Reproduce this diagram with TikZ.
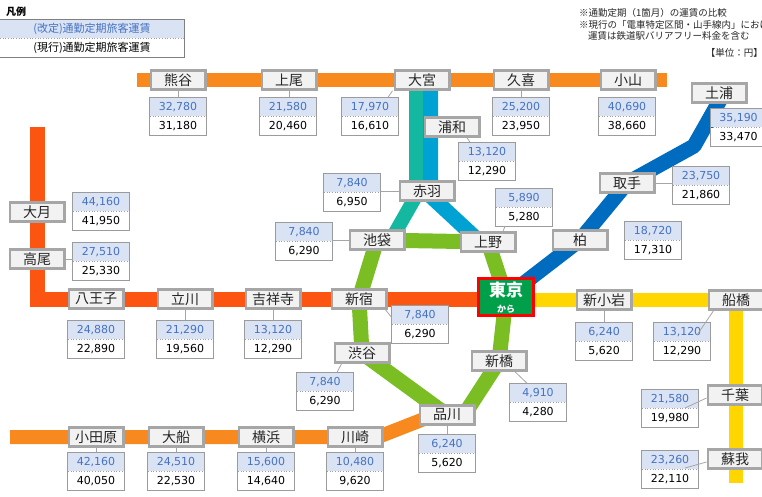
\documentclass[tikz,border=0pt]{standalone}
\usepackage{fontspec}
\setmainfont{DejaVu Sans}
\newfontfamily\jp{Noto Sans CJK JP}
\usetikzlibrary{calc,backgrounds}
\definecolor{stborder}{RGB}{166,166,166}
\definecolor{stfill}{RGB}{242,242,242}
\definecolor{stext}{RGB}{38,38,38}
\definecolor{farefill}{RGB}{218,227,243}
\definecolor{fareblue}{RGB}{68,114,196}
\definecolor{fareborder}{RGB}{155,155,155}
\definecolor{orangeT}{RGB}{247,137,30}
\definecolor{chuo}{RGB}{252,85,18}
\definecolor{saikyo}{RGB}{20,184,160}
\definecolor{keihin}{RGB}{0,162,212}
\definecolor{yamanote}{RGB}{122,190,35}
\definecolor{joban}{RGB}{0,108,192}
\definecolor{sobu}{RGB}{255,214,0}
\definecolor{tokgreen}{RGB}{0,160,75}
\definecolor{tokred}{RGB}{255,0,0}
\tikzset{
  station/.style={draw=stborder, line width=2.5pt, fill=stfill, minimum width=54.5pt,
    minimum height=19pt, inner sep=0pt, text=stext, font=\jp\fontsize{14}{14}\selectfont},
  farenew/.style={fill=farefill, text=fareblue, minimum width=56pt, minimum height=19pt,
    inner sep=0pt, anchor=north, font=\fontsize{11}{11}\selectfont},
  fareold/.style={fill=white, text=black, minimum width=56pt, minimum height=19pt,
    inner sep=0pt, anchor=north, font=\fontsize{11}{11}\selectfont},
  fareframe/.style={draw=fareborder, line width=0.9pt},
  faresep/.style={draw=gray!75, dotted, line width=0.7pt},
  leader/.style={draw=stborder, line width=0.8pt},
  rail/.style={line width=#1},
  rail/.default=15pt,
  notetext/.style={inner sep=0pt, text=stext, font=\jp\fontsize{9.5}{9.5}\selectfont},
  legnew/.style={fill=farefill, text=fareblue, minimum width=184pt, minimum height=19pt,
    inner sep=0pt, anchor=north, font=\jp\fontsize{11}{11}\selectfont},
  legold/.style={fill=white, text=black, minimum width=184pt, minimum height=19pt,
    inner sep=0pt, anchor=north, font=\jp\fontsize{11}{11}\selectfont},
  tokyobox/.style={draw=tokred, fill=tokgreen, line width=3pt, minimum width=55pt,
    minimum height=37pt, inner sep=0pt},
  tokyomain/.style={inner sep=0pt, text=white, font=\jp\bfseries\fontsize{17}{17}\selectfont},
  tokyosub/.style={inner sep=0pt, text=white, font=\jp\bfseries\fontsize{9}{9}\selectfont},
}
\newcommand\mkfare[5]{%
  \node[farenew] (#1-n) at (#2,#3) {#4};
  \node[fareold] (#1-o) at (#1-n.south) {#5};
  \draw[faresep] (#1-n.south west) -- (#1-n.south east);
  \draw[fareframe] (#1-n.north west) rectangle (#1-o.south east);
}
\begin{document}
\begin{tikzpicture}[x=1pt,y=-1pt]
\useasboundingbox (0,0) rectangle (762,497);

% ---------- legend and notes
\node[inner sep=0pt, anchor=west, text=black, font=\jp\bfseries\fontsize{10}{10}\selectfont] (legtitle) at (6,12) {凡例};
\node[legnew] (leg-n) at (92,19) {(改定)通勤定期旅客運賃};
\node[legold] (leg-o) at (leg-n.south) {(現行)通勤定期旅客運賃};
\draw[faresep] (leg-n.south west) -- (leg-n.south east);
\draw[draw=gray, line width=0.9pt] (leg-n.north west) rectangle (leg-o.south east);

\node[notetext, anchor=west] (note1) at (579,13) {※通勤定期（1箇月）の運賃の比較};
\node[notetext, anchor=west] (note2) at (579,25) {※現行の「電車特定区間・山手線内」における};
\node[notetext, anchor=west] (note3) at (588,36) {運賃は鉄道駅バリアフリー料金を含む};
\node[notetext, anchor=east] (unit) at (763,53) {【単位：円】};

% ---------- stations
\node[station] (kumagaya) at (178,80) {熊谷};
\node[station] (ageo) at (289,80) {上尾};
\node[station] (omiya) at (422,80) {大宮};
\node[station] (kuki) at (521,80) {久喜};
\node[station] (oyama) at (628,80) {小山};
\node[station] (urawa) at (452,127) {浦和};
\node[station] (akabane) at (427,191) {赤羽};
\node[station] (ikebukuro) at (377,240) {池袋};
\node[station] (ueno) at (488,242) {上野};
\node[station] (shinjuku) at (359,299) {新宿};
\node[station] (shibuya) at (362,353) {渋谷};
\node[station] (shimbashi) at (499,361) {新橋};
\node[station] (shinagawa) at (447,415) {品川};
\node[station] (otsuki) at (37,212) {大月};
\node[station] (takao) at (37,259) {高尾};
\node[station] (hachioji) at (96,299) {八王子};
\node[station] (tachikawa) at (185,299) {立川};
\node[station] (kichijoji) at (273,299) {吉祥寺};
\node[station] (odawara) at (96,437) {小田原};
\node[station] (ofuna) at (176,437) {大船};
\node[station] (yokohama) at (266,437) {横浜};
\node[station] (kawasaki) at (355,437) {川崎};
\node[station] (kashiwa) at (580,240) {柏};
\node[station] (toride) at (627,183) {取手};
\node[station] (tsuchiura) at (719,93) {土浦};
\node[station] (shinkoiwa) at (604,300) {新小岩};
\node[station] (funabashi) at (736,300) {船橋};
\node[station] (chiba) at (735,395) {千葉};
\node[station] (soga) at (735,459) {蘇我};

\node[tokyobox] (tokyo) at (506,297) {};
\node[tokyomain] (tokyo-t) at (506,290) {東京};
\node[tokyosub] (tokyo-k) at (506,309) {から};

% ---------- rail lines
\coordinate (takW) at (137,80);
\coordinate (takE) at (667,80);
\coordinate (saiN) at (416,82);
\coordinate (saiB) at (416,196);
\coordinate (kenN) at (430.5,82);
\coordinate (kenB) at (430.5,196);
\coordinate (chuoN) at (37,127);
\coordinate (chuoC) at (37,299.5);
\coordinate (sobuC) at (736,300);
\coordinate (sobuS) at (736,483);
\coordinate (tokaW) at (10,437);
\coordinate (tokaK) at (378,437);
\coordinate (jobB) at (694,146);
\begin{scope}[on background layer]
  \fill[white] (0,0) rectangle (762,497);
  \draw[rail=14pt, orangeT] (takW) -- (takE);
  \draw[rail=14pt, saikyo, line join=round] (saiN) -- (saiB) -- ($(ikebukuro.center)+(14,0)$);
  \draw[rail=15pt, keihin, line join=round] (kenN) -- (kenB) -- ($(ueno.center)+(-8,0)$);
  \draw[rail=15pt, chuo, line join=miter] (chuoN) -- (chuoC) -- (tokyo.center |- chuoC);
  \draw[rail=14pt, sobu, line join=miter] (tokyo.center |- sobuC) -- (sobuC) -- (sobuS);
  \draw[rail=14pt, orangeT, line join=round] (tokaW) -- (tokaK) -- ($(shinagawa.center)+(0,-5)$);
  \draw[rail=15pt, joban, line join=round] (tokyo.center) -- (kashiwa.center) -- (toride.center)
    -- (jobB) -- ($(tsuchiura.center)+(5,0)$);
  \draw[rail=15pt, yamanote, line join=round] (ikebukuro.center) -- (ueno.center) -- (tokyo.center)
    -- (shimbashi.center) -- ($(shinagawa.center)+(17,0)$) -- (shinagawa.center)
    -- (shibuya.center) -- (shinjuku.center) -- cycle;
\end{scope}

% ---------- fare boxes
\mkfare{kumagaya}{178}{97}{32,780}{31,180}
\mkfare{ageo}{288}{97}{21,580}{20,460}
\mkfare{omiya}{370}{97}{17,970}{16,610}
\mkfare{kuki}{521}{97}{25,200}{23,950}
\mkfare{oyama}{627}{97}{40,690}{38,660}
\mkfare{urawa}{487}{142}{13,120}{12,290}
\mkfare{akabane}{352}{173}{7,840}{6,950}
\mkfare{ikebukuro}{304}{222}{7,840}{6,290}
\mkfare{ueno}{524}{188}{5,890}{5,280}
\mkfare{shinjuku}{420}{305}{7,840}{6,290}
\mkfare{shibuya}{325}{372}{7,840}{6,290}
\mkfare{shimbashi}{538}{383}{4,910}{4,280}
\mkfare{shinagawa}{447}{434}{6,240}{5,620}
\mkfare{otsuki}{101}{192}{44,160}{41,950}
\mkfare{takao}{101}{242}{27,510}{25,330}
\mkfare{hachioji}{96}{320}{24,880}{22,890}
\mkfare{tachikawa}{185}{320}{21,290}{19,560}
\mkfare{kichijoji}{273}{320}{13,120}{12,290}
\mkfare{odawara}{96}{452}{42,160}{40,050}
\mkfare{ofuna}{176}{452}{24,510}{22,530}
\mkfare{yokohama}{266}{452}{15,600}{14,640}
\mkfare{kawasaki}{355}{452}{10,480}{9,620}
\mkfare{kashiwa}{653}{221}{18,720}{17,310}
\mkfare{toride}{701}{166}{23,750}{21,860}
\mkfare{tsuchiura}{738.5}{108}{35,190}{33,470}
\mkfare{shinkoiwa}{604}{322}{6,240}{5,620}
\mkfare{funabashi}{682}{322}{13,120}{12,290}
\mkfare{chiba}{670}{389}{21,580}{19,980}
\mkfare{soga}{670}{450}{23,260}{22,110}

% ---------- leaders
\coordinate (funabashi-l) at (697,335);
\coordinate (chiba-l) at (685,408);
\coordinate (soga-l) at (685,468);
\draw[leader] (kumagaya.south) -- (kumagaya.south |- kumagaya-n.north);
\draw[leader] (ageo.south) -- (ageo.south |- ageo-n.north);
\draw[leader] ($(omiya.south west)+(-1,0)$) -- ($(omiya-n.north east)+(-10,0)$);
\draw[leader] (kuki.south) -- (kuki.south |- kuki-n.north);
\draw[leader] ($(urawa.south)+(15,0)$) -- ($(urawa-n.north west)+(11,0)$);
\draw[leader] (akabane.west) -- (akabane.west -| akabane-n.east);
\draw[leader] (ikebukuro.west) -- (ikebukuro.west -| ikebukuro-n.east);
\draw[leader] ($(ueno.north)+(15,0)$) -- ($(ueno-o.south west)+(9,0)$);
\draw[leader] ($(shinjuku.south east)+(-2,0)$) -- ($(shinjuku-n.west)+(0,3)$);
\draw[leader] ($(shibuya.south west)+(8,0)$) -- ($(shibuya-n.north east)+(-16,0)$);
\draw[leader] ($(shimbashi.south)+(16,0)$) -- ($(shimbashi-n.north west)+(17,0)$);
\draw[leader] (shinagawa.south) -- (shinagawa.south |- shinagawa-n.north);
\draw[leader] ($(otsuki.east)+(0,-1)$) -- ($(otsuki.east)+(0,-1)$ -| otsuki-n.west);
\draw[leader] (takao.east) -- (takao.east -| takao-n.west);
\draw[leader] ($(hachioji.south)+(-2,0)$) -- ($(hachioji.south)+(-2,0)$ |- hachioji-n.north);
\draw[leader] (tachikawa.south) -- (tachikawa.south |- tachikawa-n.north);
\draw[leader] (kichijoji.south) -- (kichijoji.south |- kichijoji-n.north);
\draw[leader] (odawara.south) -- (odawara.south |- odawara-n.north);
\draw[leader] (ofuna.south) -- (ofuna.south |- ofuna-n.north);
\draw[leader] (yokohama.south) -- (yokohama.south |- yokohama-n.north);
\draw[leader] (kawasaki.south) -- (kawasaki.south |- kawasaki-n.north);
\draw[leader] ($(kashiwa.east)+(0,-1)$) -- ($(kashiwa.east)+(0,-1)$ -| kashiwa-n.west);
\draw[leader] (toride.east) -- (toride.east -| toride-n.west);
\draw[leader] (shinkoiwa.south) -- (shinkoiwa.south |- shinkoiwa-n.north);
\draw[leader] ($(funabashi.south west)+(6,0)$) -- (funabashi-l);
\draw[leader] ($(chiba.west)+(0,3)$) -- (chiba-l);
\draw[leader] ($(soga.west)+(0,3)$) -- (soga-l);
\end{tikzpicture}
\end{document}
